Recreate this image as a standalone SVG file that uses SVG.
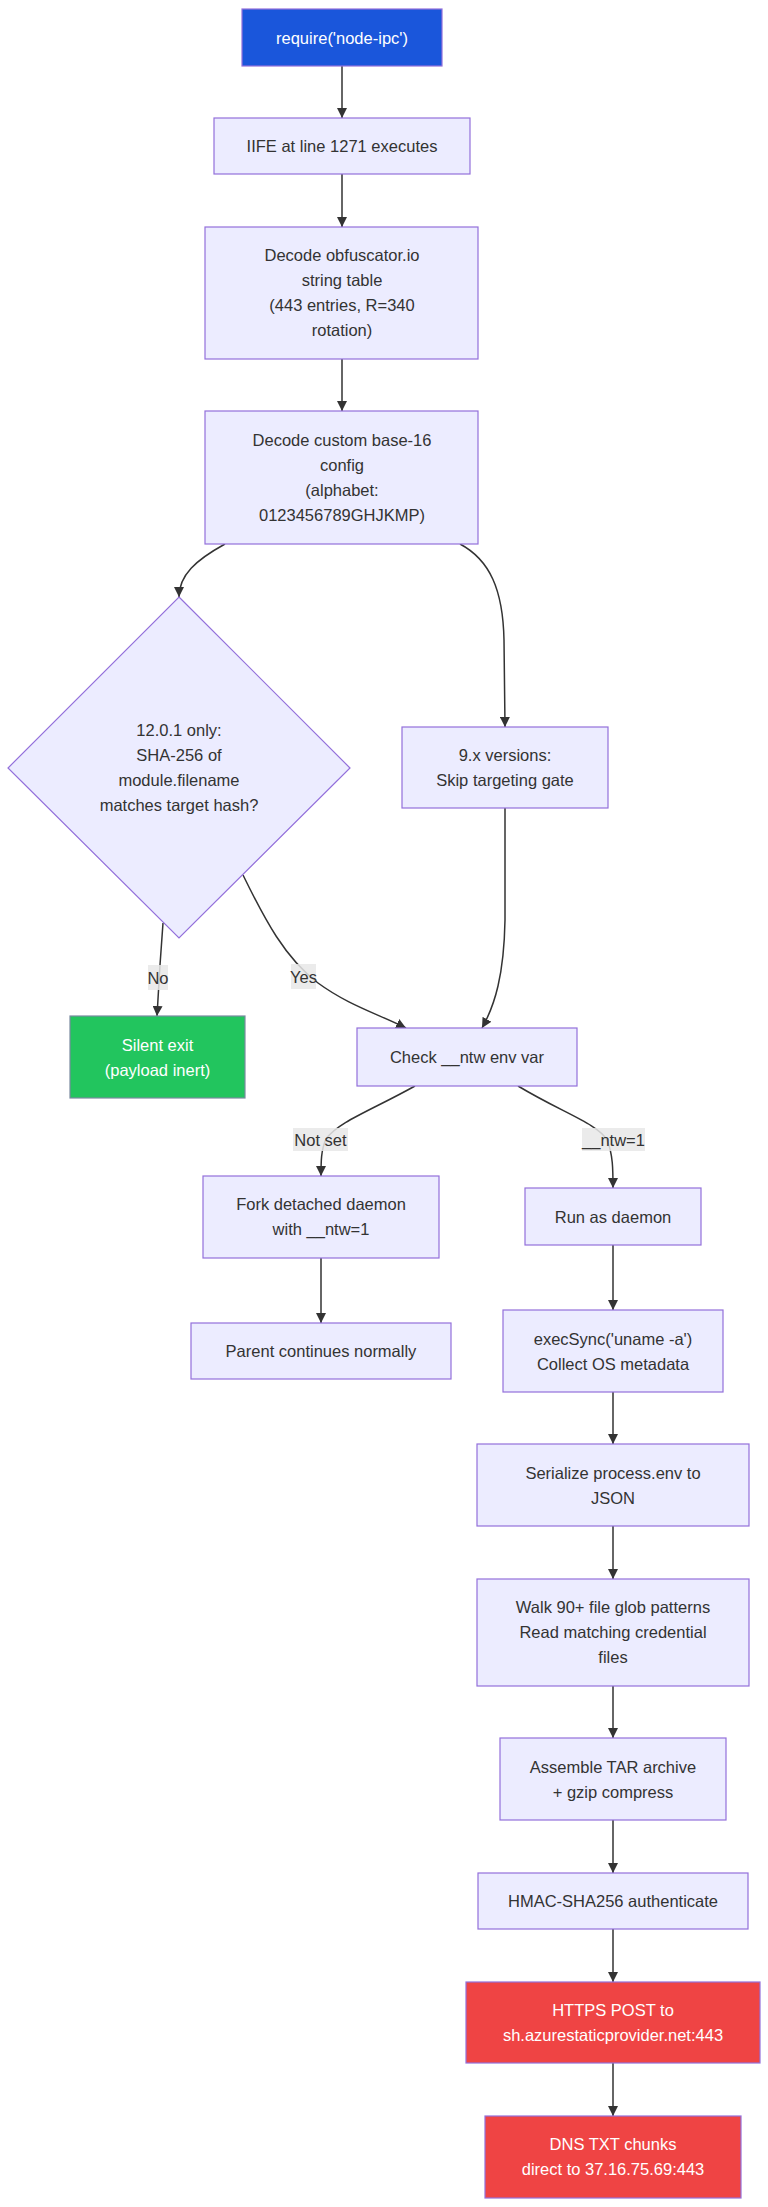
<svg xmlns="http://www.w3.org/2000/svg" width="768" height="2207" viewBox="0 0 768 2207">
<style>
  .n { fill: #ECECFF; stroke: #9370DB; stroke-width: 1.2; }
  .blue { fill: #1a56db; stroke: #9370DB; stroke-width: 1.2; }
  .green { fill: #22c55e; stroke: #7a8aa0; stroke-width: 1.2; }
  .red { fill: #ef4444; stroke: #9370DB; stroke-width: 1.2; }
  text { font-family: "Liberation Sans", Arial, sans-serif; font-size: 16.5px; fill: #333; text-anchor: middle; dominant-baseline: central; }
  text.w { fill: #ffffff; }
  .e { fill: none; stroke: #333; stroke-width: 1.5; marker-end: url(#arr); }
  .lb { fill: #e8e8e8; fill-opacity: 0.85; }
</style>
<defs>
  <marker id="arr" viewBox="0 0 10 10" refX="10" refY="5" markerWidth="10" markerHeight="10" markerUnits="userSpaceOnUse" orient="auto">
    <path d="M0,0 L10,5 L0,10 z" fill="#333"/>
  </marker>
</defs>
<rect width="768" height="2207" fill="#ffffff"/>

<g id="edges">
  <path class="e" d="M342,66 L342,118"/>
  <path class="e" d="M342,174 L342,227"/>
  <path class="e" d="M342,359 L342,411"/>
  <path class="e" d="M225,544 C196,560 179,575 179,597"/>
  <path class="e" d="M460,544 C490,560 503,590 504,640 L505,727"/>
  <path class="e" d="M163,923 L160,965 L157,1016"/>
  <path class="e" d="M243,875 C265,920 285,958 318,983 C348,1005 378,1014 406,1028"/>
  <path class="e" d="M505,808 L505,920 C504,975 495,1005 482,1028"/>
  <path class="e" d="M415,1086 C372,1110 338,1122 326,1139 C321,1150 321,1162 321,1176"/>
  <path class="e" d="M518,1086 C563,1113 598,1124 607,1140 C613,1154 613,1170 613,1188"/>
  <path class="e" d="M321,1258 L321,1323"/>
  <path class="e" d="M613,1245 L613,1310"/>
  <path class="e" d="M613,1392 L613,1444"/>
  <path class="e" d="M613,1526 L613,1579"/>
  <path class="e" d="M613,1686 L613,1738"/>
  <path class="e" d="M613,1820 L613,1873"/>
  <path class="e" d="M613,1929 L613,1982"/>
  <path class="e" d="M613,2063 L613,2116"/>
  <g id="edge-labels">
    <rect class="lb" x="148" y="965" width="20" height="25"/>
    <text x="158" y="977.5">No</text>
    <rect class="lb" x="291" y="964" width="25" height="25"/>
    <text x="303.5" y="976.5">Yes</text>
    <rect class="lb" x="293" y="1128" width="55" height="23"/>
    <text x="320.5" y="1139.5">Not set</text>
    <rect class="lb" x="582" y="1128" width="63" height="23"/>
    <text x="613.5" y="1139.5">__ntw=1</text>
  </g>
</g>

<g id="require">
  <rect class="blue" x="242" y="9" width="200" height="57"/>
  <text class="w" x="342" y="37.5">require('node-ipc')</text>
</g>
<g id="iife">
  <rect class="n" x="214" y="118" width="256" height="56"/>
  <text x="342" y="146">IIFE at line 1271 executes</text>
</g>
<g id="decode-obf">
  <rect class="n" x="205" y="227" width="273" height="132"/>
  <text x="342" y="255">Decode obfuscator.io</text>
  <text x="342" y="280">string table</text>
  <text x="342" y="305">(443 entries, R=340</text>
  <text x="342" y="330">rotation)</text>
</g>
<g id="decode-b16">
  <rect class="n" x="205" y="411" width="273" height="133"/>
  <text x="342" y="440">Decode custom base-16</text>
  <text x="342" y="465">config</text>
  <text x="342" y="490">(alphabet:</text>
  <text x="342" y="515">0123456789GHJKMP)</text>
</g>
<g id="gate">
  <polygon class="n" points="179,597 350,768 179,938 8,768"/>
  <text x="179" y="730">12.0.1 only:</text>
  <text x="179" y="755">SHA-256 of</text>
  <text x="179" y="780">module.filename</text>
  <text x="179" y="805">matches target hash?</text>
</g>
<g id="skip9x">
  <rect class="n" x="402" y="727" width="206" height="81"/>
  <text x="505" y="755">9.x versions:</text>
  <text x="505" y="780">Skip targeting gate</text>
</g>
<g id="silent-exit">
  <rect class="green" x="70" y="1016" width="175" height="82"/>
  <text class="w" x="157.5" y="1045">Silent exit</text>
  <text class="w" x="157.5" y="1070">(payload inert)</text>
</g>
<g id="check-ntw">
  <rect class="n" x="357" y="1028" width="220" height="58"/>
  <text x="467" y="1057">Check __ntw env var</text>
</g>
<g id="fork">
  <rect class="n" x="203" y="1176" width="236" height="82"/>
  <text x="321" y="1204">Fork detached daemon</text>
  <text x="321" y="1229">with __ntw=1</text>
</g>
<g id="parent">
  <rect class="n" x="191" y="1323" width="260" height="56"/>
  <text x="321" y="1351">Parent continues normally</text>
</g>
<g id="run-daemon">
  <rect class="n" x="525" y="1188" width="176" height="57"/>
  <text x="613" y="1216.5">Run as daemon</text>
</g>
<g id="execsync">
  <rect class="n" x="503" y="1310" width="220" height="82"/>
  <text x="613" y="1338.5">execSync('uname -a')</text>
  <text x="613" y="1363.5">Collect OS metadata</text>
</g>
<g id="serialize">
  <rect class="n" x="477" y="1444" width="272" height="82"/>
  <text x="613" y="1472.5">Serialize process.env to</text>
  <text x="613" y="1497.5">JSON</text>
</g>
<g id="walk">
  <rect class="n" x="477" y="1579" width="272" height="107"/>
  <text x="613" y="1607">Walk 90+ file glob patterns</text>
  <text x="613" y="1632">Read matching credential</text>
  <text x="613" y="1657">files</text>
</g>
<g id="assemble">
  <rect class="n" x="500" y="1738" width="226" height="82"/>
  <text x="613" y="1766.5">Assemble TAR archive</text>
  <text x="613" y="1791.5">+ gzip compress</text>
</g>
<g id="hmac">
  <rect class="n" x="478" y="1873" width="270" height="56"/>
  <text x="613" y="1901">HMAC-SHA256 authenticate</text>
</g>
<g id="https-post">
  <rect class="red" x="466" y="1982" width="294" height="81"/>
  <text class="w" x="613" y="2010">HTTPS POST to</text>
  <text class="w" x="613" y="2035">sh.azurestaticprovider.net:443</text>
</g>
<g id="dns-txt">
  <rect class="red" x="485" y="2116" width="256" height="82"/>
  <text class="w" x="613" y="2144">DNS TXT chunks</text>
  <text class="w" x="613" y="2169">direct to 37.16.75.69:443</text>
</g>
</svg>
